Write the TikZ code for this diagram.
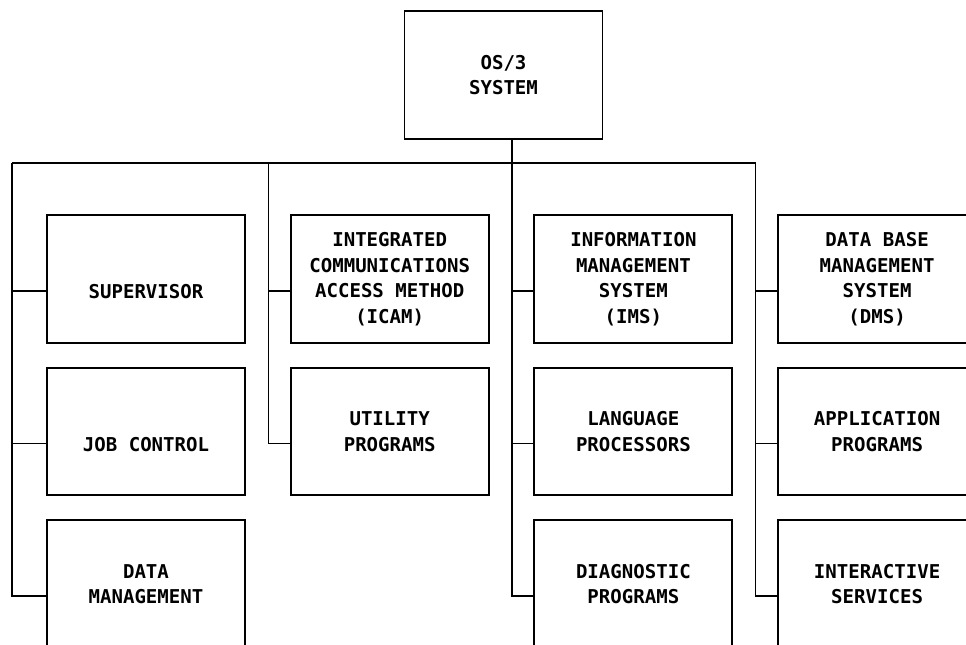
\documentclass[tikz,border=0pt]{standalone}
\usepackage{fontspec}
\setmonofont{DejaVu Sans Mono}
\usetikzlibrary{positioning}
\usetikzlibrary{calc}

\begin{document}
\begin{tikzpicture}[x=0.75pt,y=-0.75pt]
\pgfmathsetmacro{\XTD}{243.7}
\pgfmathsetmacro{\YTD}{152.5}
\pgfmathsetmacro{\XMD}{146}
\pgfmathsetmacro{\YMD}{279}
\pgfmathsetmacro{\YBUS}{163}


\tikzset{
  block/.style={draw, rectangle, line width=1.4pt, align=center,
  minimum width=148.5pt, minimum height=95.5pt, inner sep=0pt,
  font=\ttfamily\bfseries\fontsize{14.3}{19.2}\selectfont},
  wire/.style={draw, line width=1.1pt},
}

\useasboundingbox (0,0) rectangle (966,645);
\clip (0,0) rectangle (966,645);

\node[block] (os3) at (503.5, 75) {OS/3\\SYSTEM};

\node[block] (sup) at (\XMD, \YMD) {\vphantom{X}\\SUPERVISOR};
\node[block] (jc) at (\XMD, \YMD+\YTD) {\vphantom{X}\\JOB CONTROL};
\node[block] (dm) at (\XMD, \YMD+2*\YTD) {DATA\\MANAGEMENT};

\node[block] (icam) at (\XMD+\XTD, \YMD) {INTEGRATED\\COMMUNICATIONS\\ACCESS METHOD\\(ICAM)};
\node[block] (util) at (\XMD+\XTD, \YMD+\YTD) {UTILITY\\PROGRAMS};

\node[block] (ims) at (\XMD+2*\XTD, \YMD) {INFORMATION\\MANAGEMENT\\SYSTEM\\(IMS)};
\node[block] (lang) at (\XMD+2*\XTD, \YMD+\YTD) {LANGUAGE\\PROCESSORS};
\node[block] (diag) at (\XMD+2*\XTD, \YMD+2*\YTD) {DIAGNOSTIC\\PROGRAMS};

\node[block] (dms) at (\XMD+3*\XTD, \YMD) {DATA BASE\\MANAGEMENT\\SYSTEM\\(DMS)};
\node[block] (app) at (\XMD+3*\XTD, \YMD+\YTD) {APPLICATION\\PROGRAMS};
\node[block] (inter) at (\XMD+3*\XTD, \YMD+2*\YTD) {INTERACTIVE\\SERVICES};

\coordinate (b1) at (12, \YBUS);
\coordinate (b2) at (268.5, \YBUS);
\coordinate (b3) at (512, \YBUS);
\coordinate (b4) at (755.5, \YBUS);

% trunk and bus
\draw[wire] (os3.south -| b3) -- (b3);
\draw[wire] (b1) -- (b4);

% column 1
\draw[wire] (b1) |- ([yshift=-9pt]dm.west);
\draw[wire] ([yshift=-9pt]sup.west) -- ([yshift=-9pt]sup.west -| b1);
\draw[wire] ([yshift=-9pt]jc.west) -- ([yshift=-9pt]jc.west -| b1);

% column 2
\draw[wire] (b2) |- ([yshift=-9pt]util.west);
\draw[wire] ([yshift=-9pt]icam.west) -- ([yshift=-9pt]icam.west -| b2);

% column 3
\draw[wire] (b3) |- ([yshift=-9pt]diag.west);
\draw[wire] ([yshift=-9pt]ims.west) -- ([yshift=-9pt]ims.west -| b3);
\draw[wire] ([yshift=-9pt]lang.west) -- ([yshift=-9pt]lang.west -| b3);

% column 4
\draw[wire] (b4) |- ([yshift=-9pt]inter.west);
\draw[wire] ([yshift=-9pt]dms.west) -- ([yshift=-9pt]dms.west -| b4);
\draw[wire] ([yshift=-9pt]app.west) -- ([yshift=-9pt]app.west -| b4);
\end{tikzpicture}
\end{document}
